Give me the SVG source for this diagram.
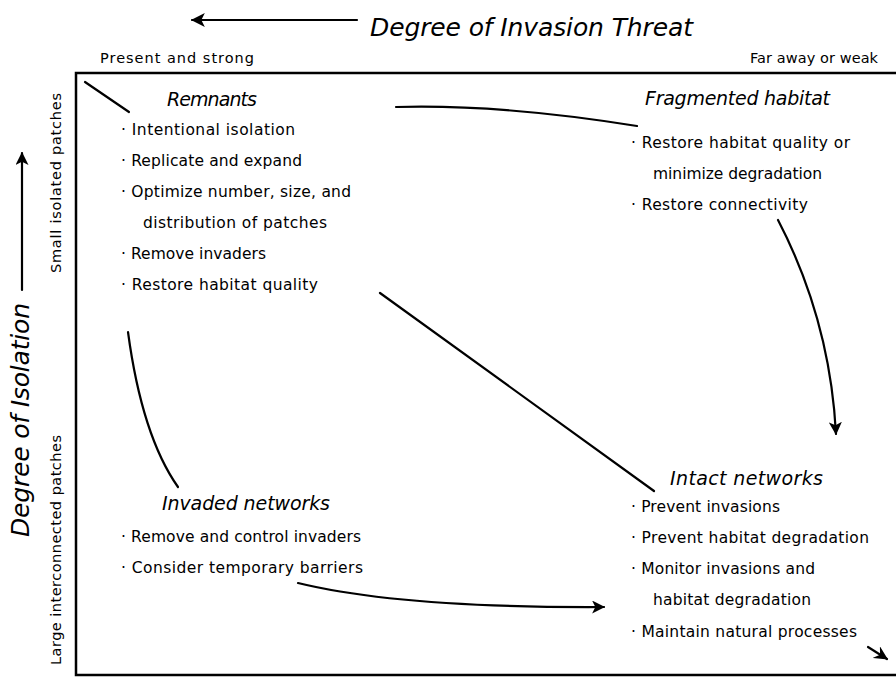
<svg xmlns="http://www.w3.org/2000/svg" width="896" height="677" viewBox="0 0 896 677">
  <style>
    .ttl { font-family: "DejaVu Sans", "Liberation Sans", sans-serif; font-style: oblique; fill: #000; }
    .hd { font-family: "DejaVu Sans", "Liberation Sans", sans-serif; font-style: oblique; font-size: 19px; fill: #000; }
    .bt { font-family: "DejaVu Sans", "Liberation Sans", sans-serif; font-size: 15.5px; fill: #000; }
    .ax { font-family: "DejaVu Sans", "Liberation Sans", sans-serif; font-size: 14.5px; fill: #000; }
    .ln { fill: none; stroke: #000; stroke-width: 2.2; stroke-linecap: round; }
    .frame { fill: none; stroke: #000; stroke-width: 2.5; }
  </style>
  <defs>
    <marker id="ah" viewBox="0 0 12 12" refX="11" refY="6" markerWidth="13" markerHeight="13" markerUnits="userSpaceOnUse" orient="auto">
      <path d="M0,0 L12,6 L0,12 L3,6 z" fill="#000"/>
    </marker>
    <marker id="ahb" viewBox="0 0 12 12" refX="11" refY="6" markerWidth="14" markerHeight="14" markerUnits="userSpaceOnUse" orient="auto">
      <path d="M0,0 L12,6 L0,12 L3,6 z" fill="#000"/>
    </marker>
    <marker id="ahs" viewBox="0 0 12 12" refX="11" refY="6" markerWidth="14" markerHeight="14" markerUnits="userSpaceOnUse" orient="auto">
      <path d="M0,0 L12,6 L0,12 L4,6 z" fill="#000"/>
    </marker>
  </defs>
  <rect width="896" height="677" fill="#fff"/>

  <g id="frame">
    <path class="frame" d="M896,73 H76 V675 H896"/>
  </g>

  <g id="axis-top">
    <line class="ln" x1="357" y1="20" x2="192" y2="20" stroke-width="3.2" marker-end="url(#ahb)"/>
    <text class="ttl" x="370" y="36" font-size="25" textLength="323">Degree of Invasion Threat</text>
    <text class="ax" x="100" y="63" textLength="154">Present and strong</text>
    <text class="ax" x="878" y="63" text-anchor="end" textLength="128">Far away or weak</text>
  </g>

  <g id="axis-left">
    <line class="ln" x1="22" y1="290" x2="22" y2="153" marker-end="url(#ah)"/>
    <text class="ttl" transform="translate(29,537) rotate(-90)" x="0" y="0" font-size="25" textLength="234">Degree of Isolation</text>
    <text class="ax" transform="translate(61,273) rotate(-90)" x="0" y="0" textLength="180">Small isolated patches</text>
    <text class="ax" transform="translate(61,665) rotate(-90)" x="0" y="0" textLength="230">Large interconnected patches</text>
  </g>

  <g id="connectors">
    <line class="ln" x1="85" y1="82" x2="129" y2="112"/>
    <path class="ln" d="M396,107 Q500,104 637,126"/>
    <path class="ln" d="M778,220 Q830,320 836,434" marker-end="url(#ah)"/>
    <line class="ln" x1="380" y1="293" x2="654" y2="491"/>
    <path class="ln" d="M128,332 Q142,436 178,487"/>
    <path class="ln" d="M298,583 Q400,608 604,607" marker-end="url(#ah)"/>
    <line class="ln" x1="868" y1="647" x2="887" y2="659" stroke-width="3" marker-end="url(#ahs)"/>
  </g>

  <g id="remnants">
    <text class="hd" x="167" y="106" textLength="90">Remnants</text>
    <text class="bt" x="121" y="135" textLength="174">· Intentional isolation</text>
    <text class="bt" x="121" y="166" textLength="181">· Replicate and expand</text>
    <text class="bt" x="121" y="197" textLength="230">· Optimize number, size, and</text>
    <text class="bt" x="143" y="228" textLength="184">distribution of patches</text>
    <text class="bt" x="121" y="259" textLength="145">· Remove invaders</text>
    <text class="bt" x="121" y="290" textLength="197">· Restore habitat quality</text>
  </g>

  <g id="fragmented">
    <text class="hd" x="645" y="105" textLength="185">Fragmented habitat</text>
    <text class="bt" x="631" y="148" textLength="219">· Restore habitat quality or</text>
    <text class="bt" x="653" y="179" textLength="169">minimize degradation</text>
    <text class="bt" x="631" y="210" textLength="177">· Restore connectivity</text>
  </g>

  <g id="invaded">
    <text class="hd" x="162" y="510" textLength="168">Invaded networks</text>
    <text class="bt" x="121" y="542" textLength="240">· Remove and control invaders</text>
    <text class="bt" x="121" y="573" textLength="242">· Consider temporary barriers</text>
  </g>

  <g id="intact">
    <text class="hd" x="670" y="485" textLength="153">Intact networks</text>
    <text class="bt" x="631" y="512" textLength="149">· Prevent invasions</text>
    <text class="bt" x="631" y="543" textLength="238">· Prevent habitat degradation</text>
    <text class="bt" x="631" y="574" textLength="184">· Monitor invasions and</text>
    <text class="bt" x="653" y="605" textLength="158">habitat degradation</text>
    <text class="bt" x="631" y="637" textLength="226">· Maintain natural processes</text>
  </g>
</svg>
